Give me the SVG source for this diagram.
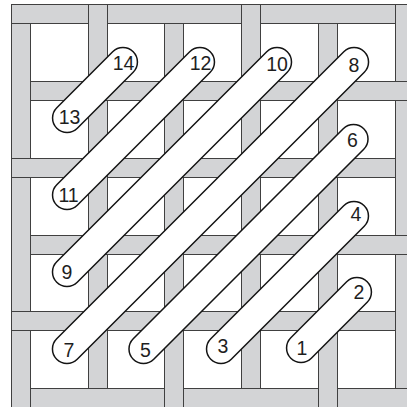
<svg xmlns="http://www.w3.org/2000/svg" width="407" height="407" viewBox="0 0 407 407">
<style>
.bar{fill:#d3d4d6;stroke:#404040;stroke-width:1}
.pf{fill:#d3d4d6;stroke:none}
.pe{fill:none;stroke:#404040;stroke-width:1}
.cap{fill:#ffffff;stroke:#141414;stroke-width:1.5}
.lbl{font-family:"Liberation Sans",Arial,sans-serif;font-size:19.5px;fill:#1e1e1e;text-anchor:middle}
</style>
<rect width="407" height="407" fill="#ffffff"/>
<g id="grid">
<rect class="bar" x="11.5" y="4.5" width="420" height="19"/>
<rect class="bar" x="11.5" y="81.5" width="420" height="19"/>
<rect class="bar" x="11.5" y="158.5" width="420" height="19"/>
<rect class="bar" x="11.5" y="235.5" width="420" height="19"/>
<rect class="bar" x="11.5" y="311.5" width="420" height="19"/>
<rect class="bar" x="11.5" y="388.5" width="420" height="19"/>
<rect class="bar" x="11.5" y="4.5" width="19" height="420"/>
<rect class="bar" x="88.5" y="4.5" width="19" height="420"/>
<rect class="bar" x="164.5" y="4.5" width="19" height="420"/>
<rect class="bar" x="241.5" y="4.5" width="19" height="420"/>
<rect class="bar" x="318.5" y="4.5" width="19" height="420"/>
<rect class="bar" x="395.5" y="4.5" width="19" height="420"/>
<g id="weave">
<rect class="pf" x="12" y="5" width="19.5" height="18"/><path class="pe" d="M11.5 4.5H31M11.5 23.5H31"/>
<rect class="pf" x="164" y="5" width="20" height="18"/><path class="pe" d="M164 4.5H184M164 23.5H184"/>
<rect class="pf" x="318" y="5" width="20" height="18"/><path class="pe" d="M318 4.5H338M318 23.5H338"/>
<rect class="pf" x="88" y="82" width="20" height="18"/><path class="pe" d="M88 81.5H108M88 100.5H108"/>
<rect class="pf" x="241" y="82" width="20" height="18"/><path class="pe" d="M241 81.5H261M241 100.5H261"/>
<rect class="pf" x="395" y="82" width="20" height="18"/><path class="pe" d="M395 81.5H415M395 100.5H415"/>
<rect class="pf" x="12" y="159" width="19.5" height="18"/><path class="pe" d="M11.5 158.5H31M11.5 177.5H31"/>
<rect class="pf" x="164" y="159" width="20" height="18"/><path class="pe" d="M164 158.5H184M164 177.5H184"/>
<rect class="pf" x="318" y="159" width="20" height="18"/><path class="pe" d="M318 158.5H338M318 177.5H338"/>
<rect class="pf" x="88" y="236" width="20" height="18"/><path class="pe" d="M88 235.5H108M88 254.5H108"/>
<rect class="pf" x="241" y="236" width="20" height="18"/><path class="pe" d="M241 235.5H261M241 254.5H261"/>
<rect class="pf" x="395" y="236" width="20" height="18"/><path class="pe" d="M395 235.5H415M395 254.5H415"/>
<rect class="pf" x="12" y="312" width="19.5" height="18"/><path class="pe" d="M11.5 311.5H31M11.5 330.5H31"/>
<rect class="pf" x="164" y="312" width="20" height="18"/><path class="pe" d="M164 311.5H184M164 330.5H184"/>
<rect class="pf" x="318" y="312" width="20" height="18"/><path class="pe" d="M318 311.5H338M318 330.5H338"/>
<rect class="pf" x="88" y="389" width="20" height="18"/><path class="pe" d="M88 388.5H108M88 407.5H108"/>
<rect class="pf" x="241" y="389" width="20" height="18"/><path class="pe" d="M241 388.5H261M241 407.5H261"/>
<rect class="pf" x="395" y="389" width="20" height="18"/><path class="pe" d="M395 388.5H415M395 407.5H415"/>
</g>
</g>
<g id="loop-13-14">
<rect class="cap" x="-54" y="-14.5" width="108" height="29" rx="14.5" transform="translate(95 90) rotate(-45)"/>
<text class="lbl" x="123.5" y="70">14</text>
<text class="lbl" x="69.5" y="123.5">13</text>
</g>
<g id="loop-11-12">
<rect class="cap" x="-108.5" y="-14.5" width="217" height="29" rx="14.5" transform="translate(133.5 128.5) rotate(-45)"/>
<text class="lbl" x="200.5" y="70">12</text>
<text class="lbl" x="68.5" y="202">11</text>
</g>
<g id="loop-9-10">
<rect class="cap" x="-163" y="-14.5" width="326" height="29" rx="14.5" transform="translate(172 167) rotate(-45)"/>
<text class="lbl" x="277" y="71">10</text>
<text class="lbl" x="67" y="279">9</text>
</g>
<g id="loop-7-8">
<rect class="cap" x="-217.5" y="-14.5" width="435" height="29" rx="14.5" transform="translate(210.5 205.5) rotate(-45)"/>
<text class="lbl" x="354" y="72">8</text>
<text class="lbl" x="69" y="357">7</text>
</g>
<g id="loop-5-6">
<rect class="cap" x="-163" y="-14.5" width="326" height="29" rx="14.5" transform="translate(248.5 244) rotate(-45)"/>
<text class="lbl" x="352.5" y="147">6</text>
<text class="lbl" x="145.5" y="357">5</text>
</g>
<g id="loop-3-4">
<rect class="cap" x="-108.5" y="-14.5" width="217" height="29" rx="14.5" transform="translate(287.5 282.5) rotate(-45)"/>
<text class="lbl" x="356" y="221">4</text>
<text class="lbl" x="223" y="353">3</text>
</g>
<g id="loop-1-2">
<rect class="cap" x="-54" y="-14.5" width="108" height="29" rx="14.5" transform="translate(329 320) rotate(-45)"/>
<text class="lbl" x="359" y="299">2</text>
<text class="lbl" x="302" y="355">1</text>
</g>
</svg>
